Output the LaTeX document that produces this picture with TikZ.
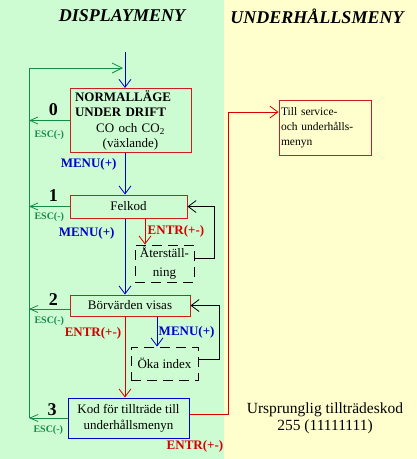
\documentclass[tikz,border=0pt]{standalone}
\usepackage{fontspec}
\setmainfont{Liberation Serif}
\usepackage{xcolor}
\usetikzlibrary{arrows.meta}

\definecolor{dispbg}{RGB}{206,252,210}
\definecolor{servbg}{RGB}{255,255,206}
\definecolor{escgreen}{RGB}{20,140,70}
\definecolor{menublue}{RGB}{0,0,204}
\definecolor{entrred}{RGB}{214,0,0}
\definecolor{boxred}{RGB}{204,30,30}

\begin{document}
\begin{tikzpicture}[x=1pt, y=-1pt, line width=0.8pt,
    >={Straight Barb[length=8pt,width=12pt]},
    headline/.style={font=\fontsize{18}{20}\selectfont\bfseries\itshape},
    box/.style={rectangle, draw=boxred, line width=1pt, inner sep=2pt, font=\fontsize{13}{16}\selectfont},
    dashbox/.style={box, draw=black, dash pattern=on 10pt off 6pt},
    num/.style={font=\fontsize{18}{18}\selectfont\bfseries, inner sep=2pt},
    esclbl/.style={text=escgreen, font=\fontsize{10}{10}\selectfont\bfseries},
    menulbl/.style={text=menublue, font=\fontsize{13}{13}\selectfont\bfseries},
    entrlbl/.style={text=entrred, font=\fontsize{13}{13}\selectfont\bfseries}]
  \useasboundingbox (0,0) rectangle (417,459);
  \fill[dispbg] (0,0) rectangle (224,459);
  \fill[servbg] (224,0) rectangle (417,459);

  \node[headline] (dispmeny) at (122,16) {DISPLAYMENY};
  \node[headline] (servmeny) at (317,16) {UNDERHÅLLSMENY};

  % display menu
  \node[box, text width=111pt, inner xsep=5pt, minimum height=63pt, align=center, font=\fontsize{13}{15.5}\selectfont] (norm) at (130.5,120.5)
    {\makebox[111pt][l]{\bfseries NORMALLÄGE}\\ \makebox[111pt][l]{\bfseries UNDER DRIFT}\\ CO och CO\textsubscript{2}\\ (växlande)};
  \node[box, minimum width=117pt, minimum height=23pt] (felkod) at (128.5,206.5) {Felkod};
  \node[dashbox, minimum width=59pt, minimum height=37pt, align=center, font=\fontsize{13}{19}\selectfont] (ater) at (164.5,263.5) {Återställ-\\ning};
  \node[box, minimum width=120pt, minimum height=21pt] (borv) at (130,305.5) {Börvärden visas};
  \node[dashbox, minimum width=67pt, minimum height=33pt] (oka) at (164.5,363.5) {Öka index};
  \node[box, draw=menublue, minimum width=121pt, minimum height=40pt, align=center] (kod) at (128.5,418) {Kod för tillträde till\\underhållsmenyn};

  % maintenance menu
  \node[box, text width=88pt, minimum height=55pt, align=left, font=\fontsize{11.5}{15}\selectfont] (serv) at (325,127.5) {Till service-\\och underhålls-\\menyn};
  \node[align=center, font=\fontsize{15.5}{17}\selectfont] (ursp) at (325,418) {Ursprunglig tillträdeskod\\255 (11111111)};

  \coordinate (spine) at (125,52);
  \coordinate (rail) at (29,68);
  \coordinate (entrcol) at (145,0);
  \coordinate (menucol) at (157,0);

  \begin{scope}[every edge/.style={draw=menublue, line width=0.8pt}]
    \path[->] (spine) edge (spine |- norm.north);
    \path[->] (spine |- norm.south) edge node[menulbl, left=4.7pt, pos=0.28] {MENU(+)} (spine |- felkod.north);
    \path[->] (spine |- felkod.south) edge node[menulbl, left=6.7pt, pos=0.19] {MENU(+)} (spine |- borv.north);
    \path[->] (menucol |- borv.south) edge node[menulbl, right=-2pt, pos=0.52] {MENU(+)} (menucol |- oka.north);
  \end{scope}

  \begin{scope}[every edge/.style={draw=entrred, line width=0.8pt}]
    \path[->] (entrcol |- felkod.south) edge node[entrlbl, right=-1pt] {ENTR(+-)} (entrcol |- ater.north);
    \path[->] (spine |- borv.south) edge node[entrlbl, left=0pt, pos=0.21] {ENTR(+-)} (spine |- kod.north);
  \end{scope}
  \draw[->, entrred] ([yshift=4pt]kod.east) -- ++(39,0) |- ([yshift=15.5pt]serv.west);
  \node[entrlbl] (entr3) at (195,446) {ENTR(+-)};

  % escape back to the start
  \begin{scope}[>={Straight Barb[length=8pt,width=7pt]},
                every edge/.style={draw=escgreen, line width=0.8pt}]
    \path[->] (norm.west) edge node[esclbl, below=6.5pt] {ESC(-)} node[num, above=2pt, pos=0.4] {0} (norm.west -| rail);
    \path[->] (felkod.west) edge node[esclbl, below=2.5pt] {ESC(-)} node[num, above=3pt, pos=0.4] {1} (felkod.west -| rail);
    \path[->] ([yshift=-3.5pt]borv.west) coordinate (esc2) edge node[esclbl, below=3.5pt] {ESC(-)} node[num, above=1pt, pos=0.4] {2} (esc2 -| rail);
    \path[->] (kod.west) edge node[esclbl, below=3.5pt] {ESC(-)} node[num, above=0pt, pos=0.4] {3} (kod.west -| rail);
  \end{scope}
  \draw[->, escgreen, >={Straight Barb[length=10pt,width=10pt]}, shorten >=2pt] (rail |- kod.west) -- (rail) -- (spine |- rail);

  % back from the sub steps
  \draw[->] ([yshift=5.5pt]ater.east) -- ++(20,0) |- (felkod.east);
  \draw[->] ([yshift=4.5pt]oka.east) -- ++(21,0) |- (borv.east);
\end{tikzpicture}
\end{document}
